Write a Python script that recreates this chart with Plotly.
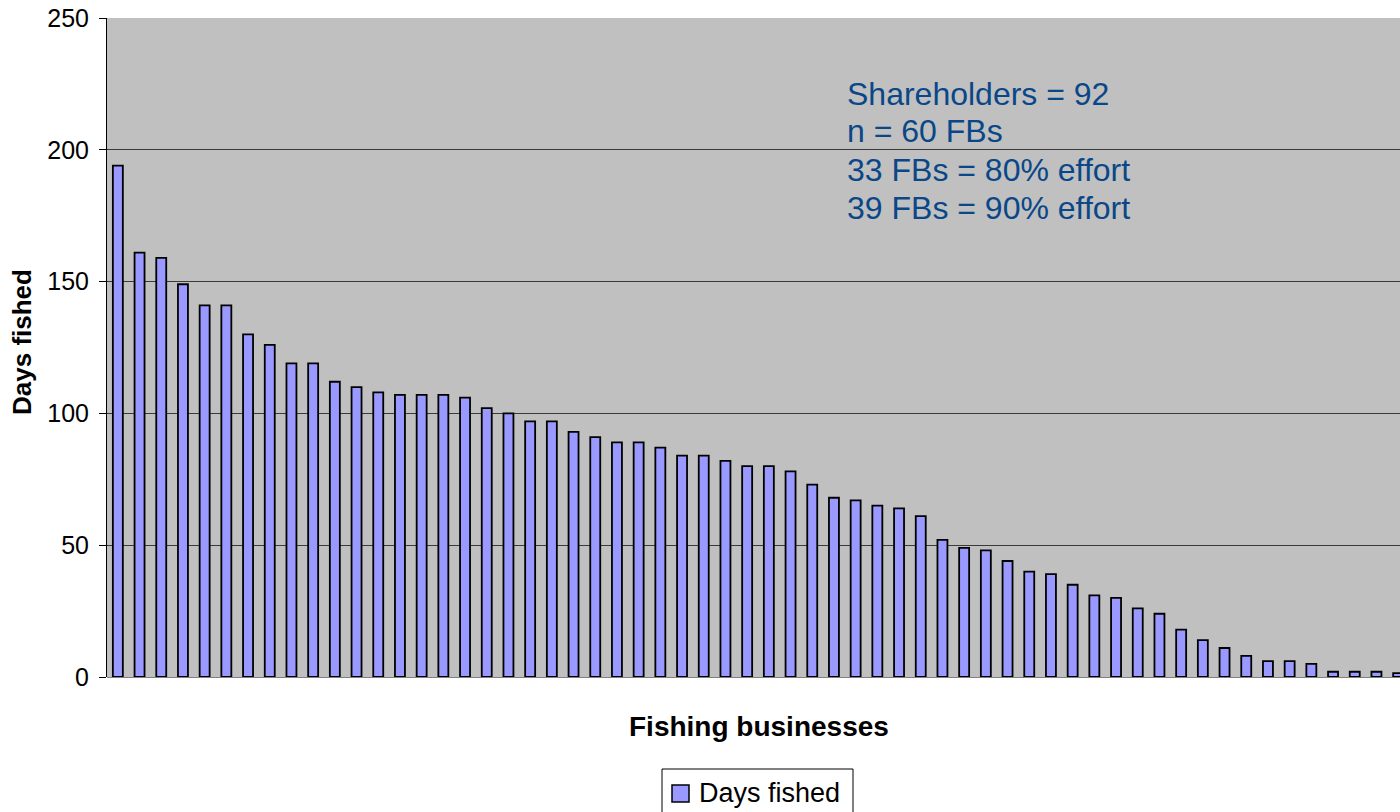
import plotly.graph_objects as go

# Data
businesses = list(range(1, 61))
days_fished = [194, 161, 159, 149, 141, 141, 130, 126, 119, 119,
               112, 110, 108, 107, 107, 107, 106, 102, 100, 97,
               97, 93, 91, 89, 89, 87, 84, 84, 82, 80,
               80, 78, 73, 68, 67, 65, 64, 61, 52, 49,
               48, 44, 40, 39, 35, 31, 30, 26, 24, 18,
               14, 11, 8, 6, 6, 5, 2, 2, 2, 1.5]
y_ticks = [0, 50, 100, 150, 200, 250]
series_name = "Days fished"
note_lines = ["Shareholders = 92", "n = 60 FBs", "33 FBs = 80% effort", "39 FBs = 90% effort"]

FONT = "Liberation Sans, Arial, sans-serif"
W, H = 1400, 812
ML, MT, MB, MR = 107, 18, 135, 0
PW = W - ML - MR
PH = H - MT - MB

BAR_FILL = "#9999FF"

fig = go.Figure()
fig.add_trace(go.Bar(
    x=list(range(len(businesses))),
    y=days_fished,
    name=series_name,
    width=0.46,
    marker=dict(color=BAR_FILL, line=dict(color="#000000", width=1.8)),
    showlegend=False,
))

px_per_cat = 21.7
x_end = -0.5 + PW / px_per_cat

def xp(px):
    return (px - ML) / PW

def yp(py):
    return (H - MB - py) / PH

fig.update_layout(
    width=W, height=H,
    margin=dict(l=ML, r=MR, t=MT, b=MB, pad=0, autoexpand=False),
    paper_bgcolor="white",
    plot_bgcolor="#C0C0C0",
    font=dict(family=FONT, size=25, color="black"),
    xaxis=dict(
        range=[-0.5, x_end], showticklabels=False, ticks="",
        showgrid=False, zeroline=False, showline=False,
    ),
    yaxis=dict(
        range=[0, 250], tickvals=y_ticks, ticks="outside", ticklen=7,
        tickcolor="#000000", tickwidth=1,
        showline=True, linecolor="#000000", linewidth=1,
        showgrid=True, gridcolor="#3a3a3a", gridwidth=1,
        zeroline=True, zerolinecolor="#808080", zerolinewidth=1,
        tickfont=dict(size=25, family=FONT, color="black"),
        ticklabelstandoff=5,
    ),
    showlegend=False,
)

# Axis titles
fig.add_annotation(
    xref="paper", yref="paper", x=xp(22), y=yp(342),
    text="<b>Days fished</b>", textangle=-90, showarrow=False,
    font=dict(size=26, family=FONT, color="black"),
    xanchor="center", yanchor="middle",
)
fig.add_annotation(
    xref="paper", yref="paper", x=xp(759), y=yp(726),
    text="<b>Fishing businesses</b>", showarrow=False,
    font=dict(size=28, family=FONT, color="black"),
    xanchor="center", yanchor="middle",
)

# Notes text block
line_centers = [94, 131, 170, 208]
for txt, cy in zip(note_lines, line_centers):
    fig.add_annotation(
        xref="paper", yref="paper", x=xp(845), y=yp(cy),
        text=txt, showarrow=False, align="left",
        font=dict(size=32, family=FONT, color="#0A4788"),
        xanchor="left", yanchor="middle",
    )

# Legend box (bottom, partly cut off by the page edge as in the reference)
fig.add_shape(type="rect", xref="paper", yref="paper",
              x0=xp(662), x1=xp(853), y0=yp(769), y1=yp(840),
              fillcolor="white", line=dict(color="#000000", width=1), layer="above")
fig.add_shape(type="rect", xref="paper", yref="paper",
              x0=xp(672), x1=xp(689), y0=yp(785), y1=yp(802),
              fillcolor=BAR_FILL, line=dict(color="#000000", width=1.5), layer="above")
fig.add_annotation(
    xref="paper", yref="paper", x=xp(697), y=yp(793),
    text=series_name, showarrow=False,
    font=dict(size=27, family=FONT, color="black"),
    xanchor="left", yanchor="middle",
)

fig.write_html(
    "out.html",
    config={"displayModeBar": False},
    post_script="document.body.style.margin='0';document.documentElement.style.overflow='hidden';",
)
